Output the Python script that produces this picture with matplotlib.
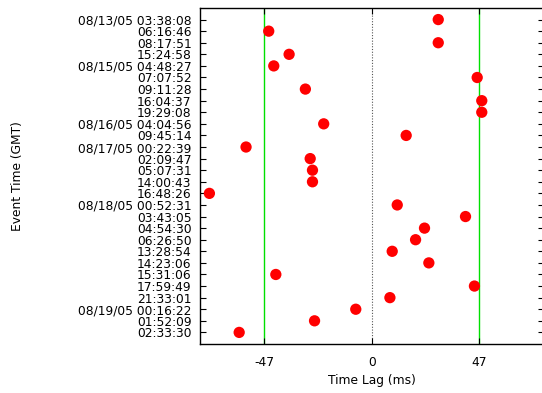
import matplotlib
matplotlib.use("Agg")
import matplotlib.pyplot as plt

plt.rcParams['font.family'] = ['DejaVu Sans']

# event times, top to bottom
event_labels = [
    "08/13/05 03:38:08", "06:16:46", "08:17:51", "15:24:58",
    "08/15/05 04:48:27", "07:07:52", "09:11:28", "16:04:37", "19:29:08",
    "08/16/05 04:04:56", "09:45:14",
    "08/17/05 00:22:39", "02:09:47", "05:07:31", "14:00:43", "16:48:26",
    "08/18/05 00:52:31", "03:43:05", "04:54:30", "06:26:50", "13:28:54",
    "14:23:06", "15:31:06", "17:59:49", "21:33:01",
    "08/19/05 00:16:22", "01:52:09", "02:33:30",
]
# time lag of each event (ms)
lags = [
    29.0, -45.0, 29.0, -36.1,
    -42.8, 46.0, -29.0, 48.0, 48.0,
    -21.0, 15.0,
    -54.9, -26.9, -25.9, -25.9, -70.9,
    11.1, 40.9, 23.0, 19.1, 8.9,
    24.9, -41.9, 44.8, 7.9,
    -7.0, -25.0, -57.9,
]
limit = 47
xticks = [-47, 0, 47]

n = len(event_labels)
rows = list(range(1, n + 1))

fig = plt.figure(figsize=(5.42, 3.93), dpi=100)
ax = fig.add_axes([0.369, 0.1247, 0.634, 0.855])

ax.axvline(-limit, color="#00e000", lw=1.0, zorder=1)
ax.axvline(limit, color="#00e000", lw=1.0, zorder=1)
ax.axvline(0, color="#555555", lw=0.8, ls=(0, (1, 1.5)), zorder=1)

ax.scatter(lags, rows, s=66, color="#ff0000", edgecolors="none", zorder=3)

ax.set_xlim(-75, 75)
ax.set_ylim(n + 1, 0)
ax.set_xticks(xticks)
ax.set_xticklabels([str(t) for t in xticks])
ax.set_yticks(rows)
ax.set_yticklabels(event_labels)

fs = 8.8
ax.tick_params(direction="in", length=4.5, width=0.8, labelsize=fs,
               top=True, right=True, pad=6, colors="black")
ax.tick_params(axis="x", pad=9)
for sp in ax.spines.values():
    sp.set_linewidth(1.0)

ax.set_xlabel("Time Lag (ms)", fontsize=fs)
ax.set_ylabel("Event Time (GMT)", fontsize=fs)
ax.xaxis.set_label_coords(0.5, -0.088)
ax.yaxis.set_label_coords(-0.513, 0.5)

fig.savefig("out.png", dpi=100)
